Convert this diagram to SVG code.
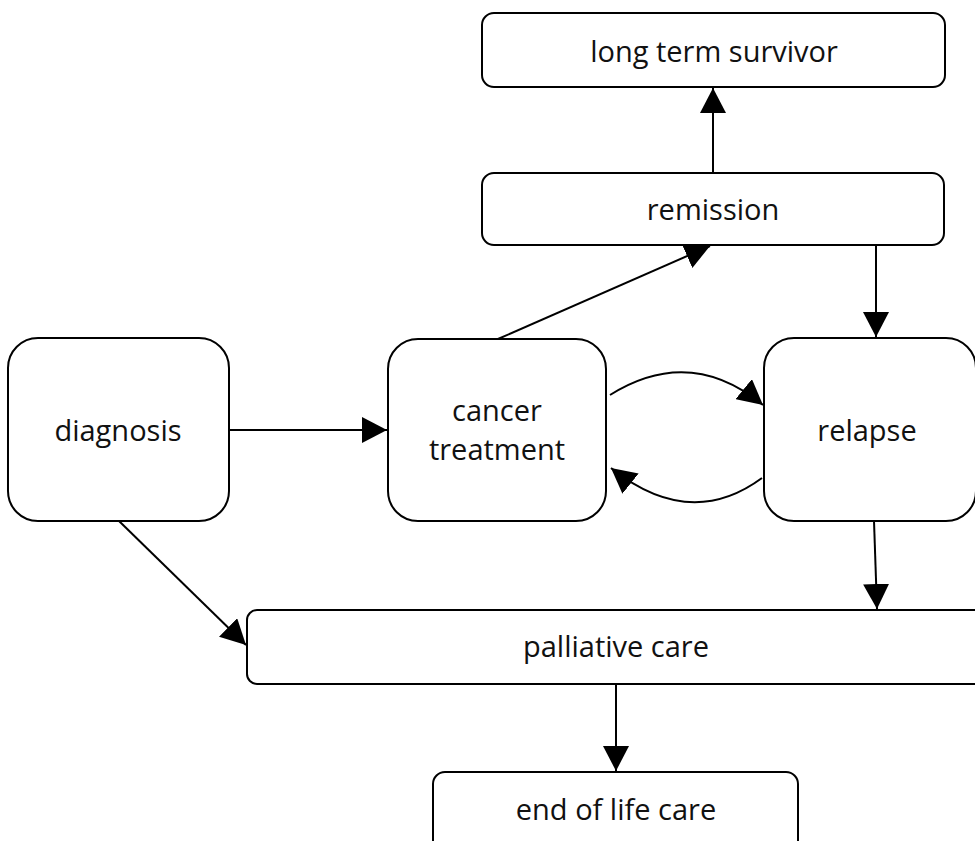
<svg xmlns="http://www.w3.org/2000/svg" width="975" height="841" viewBox="0 0 975 841">
  <style>
    .box { fill: #ffffff; stroke: #000000; stroke-width: 2; }
    .lbl { font-family: "Open Sans", "Noto Sans", "Liberation Sans", sans-serif; font-size: 29px; fill: #111111; text-anchor: middle; }
    .edge { fill: none; stroke: #000000; stroke-width: 2; marker-end: url(#head); }
  </style>
  <defs>
    <marker id="head" markerUnits="userSpaceOnUse" markerWidth="26" markerHeight="26" viewBox="0 0 26 26" refX="25" refY="13" orient="auto">
      <path d="M0,0 L25,13 L0,26 Z" fill="#000000"/>
    </marker>
  </defs>
  <rect width="975" height="841" fill="#ffffff"/>

  <!-- connectors -->
  <g id="connectors">
    <path class="edge" d="M713,173 L713,88"/>
    <path class="edge" d="M229,430 L387,430"/>
    <path class="edge" d="M498,339 L710,246"/>
    <path class="edge" d="M876,245 L876,337"/>
    <path class="edge" d="M119,521 L246,645"/>
    <path class="edge" d="M874,521 L877,609"/>
    <path class="edge" d="M616,684 L616,771"/>
    <path class="edge" d="M610,395 Q690,345 763,405"/>
    <path class="edge" d="M762,478 Q690,531 611,468"/>
  </g>

  <!-- nodes -->
  <g id="long-term-survivor">
    <rect class="box" x="482" y="13" width="463" height="74" rx="12"/>
    <text class="lbl" x="714" y="62">long term survivor</text>
  </g>
  <g id="remission">
    <rect class="box" x="482" y="173" width="462" height="72" rx="12"/>
    <text class="lbl" x="713" y="220">remission</text>
  </g>
  <g id="diagnosis">
    <rect class="box" x="8" y="338" width="221" height="183" rx="30"/>
    <text class="lbl" x="118" y="441">diagnosis</text>
  </g>
  <g id="cancer-treatment">
    <rect class="box" x="388" y="339" width="218" height="182" rx="30"/>
    <text class="lbl" x="497" y="421">cancer</text>
    <text class="lbl" x="497" y="460">treatment</text>
  </g>
  <g id="relapse">
    <rect class="box" x="764" y="338" width="212" height="183" rx="30"/>
    <text class="lbl" x="867" y="441">relapse</text>
  </g>
  <g id="palliative-care">
    <rect class="box" x="247" y="610" width="740" height="74" rx="10"/>
    <text class="lbl" x="616" y="657">palliative care</text>
  </g>
  <g id="end-of-life-care">
    <rect class="box" x="433" y="772" width="365" height="80" rx="12"/>
    <text class="lbl" x="616" y="820">end of life care</text>
  </g>
</svg>
